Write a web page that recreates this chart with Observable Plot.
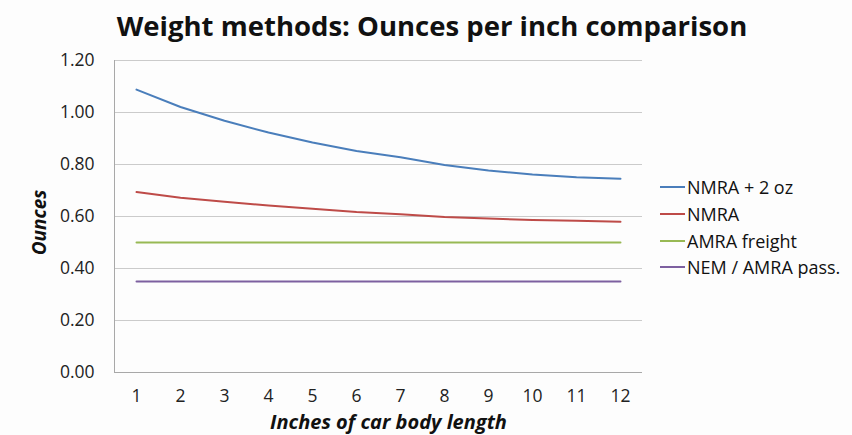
<!DOCTYPE html>
<html><head><meta charset="utf-8">
<script src="https://cdn.jsdelivr.net/npm/d3@7"></script>
<script src="https://cdn.jsdelivr.net/npm/@observablehq/plot@0.6"></script>
<style>
body{margin:0;background:#fdfdfd;font-family:"Open Sans",sans-serif;}
#wrap{position:relative;width:852px;height:435px;overflow:hidden;background:#fdfdfd;}
#title{position:absolute;left:6px;top:5px;width:852px;text-align:center;font-weight:bold;font-size:27.5px;color:#111;height:45px;line-height:42px;}
#chart{position:absolute;left:0;top:45px;}
#legend{position:absolute;left:660px;top:174px;font-size:18px;color:#111;}
.row{display:flex;align-items:center;height:26.7px;}
.sw{width:25px;height:2px;margin-right:2px;}
#chart svg{overflow:visible;}
#chart g[aria-label="y-axis tick label"], #chart g[aria-label="x-axis tick label"]{font-size:17.5px !important;}
</style></head>
<body>
<div id="wrap">
<div id="title">Weight methods: Ounces per inch comparison</div>
<div id="chart"></div>
<div id="legend"></div>
</div>
<script>
const inches = [1, 2, 3, 4, 5, 6, 7, 8, 9, 10, 11, 12];
const seriesNames = ["NMRA + 2 oz", "NMRA", "AMRA freight", "NEM / AMRA pass."];
const seriesColors = ["#4a7ebb", "#be4b48", "#98b954", "#7d60a0"];
const nmraPlus2 = [1.088, 1.021, 0.968, 0.923, 0.885, 0.852, 0.828, 0.798, 0.777, 0.762, 0.751, 0.745];
const nmra = [0.694, 0.672, 0.657, 0.642, 0.630, 0.617, 0.609, 0.598, 0.592, 0.587, 0.584, 0.580];
const amraFreight = [0.50, 0.50, 0.50, 0.50, 0.50, 0.50, 0.50, 0.50, 0.50, 0.50, 0.50, 0.50];
const nemAmraPass = [0.35, 0.35, 0.35, 0.35, 0.35, 0.35, 0.35, 0.35, 0.35, 0.35, 0.35, 0.35];
const yTicks = [0, 0.2, 0.4, 0.6, 0.8, 1.0, 1.2];
const xTitle = "Inches of car body length";
const yTitle = "Ounces";

const seriesValues = [nmraPlus2, nmra, amraFreight, nemAmraPass];
const data = [];
seriesNames.forEach((name, i) => {
  inches.forEach((x, j) => data.push({series: name, x, y: seriesValues[i][j]}));
});

const chart = Plot.plot({
  width: 852,
  height: 390,
  marginLeft: 114,
  marginRight: 210,
  marginTop: 15,
  marginBottom: 63,
  style: {fontFamily: "'Open Sans', sans-serif", color: "#222", background: "transparent"},
  x: {domain: [0.5, 12.5], ticks: inches, tickFormat: d => String(d)},
  y: {domain: [0, 1.2], ticks: yTicks, tickFormat: d => d.toFixed(2)},
  color: {domain: seriesNames, range: seriesColors},
  marks: [
    Plot.gridY(yTicks, {stroke: "#cbcbcb", strokeOpacity: 1, strokeWidth: 1}),
    Plot.ruleX([0.5], {stroke: "#a8a8a8"}),
    Plot.ruleY([0], {stroke: "#a8a8a8"}),
    Plot.line(data, {x: "x", y: "y", z: "series", stroke: "series", strokeWidth: 2}),
    Plot.axisY(yTicks, {tickSize: 0, tickPadding: 20, label: null, fontSize: 17.5, fill: "#222", tickFormat: d => d.toFixed(2)}),
    Plot.axisX(inches, {tickSize: 0, tickPadding: 17, label: null, fontSize: 17.5, fill: "#222", tickFormat: d => String(d)}),
    Plot.text([xTitle], {text: d => d, frameAnchor: "bottom", dx: 10, dy: 56, fontSize: 20, fontWeight: "bold", fontStyle: "italic", fill: "#111"}),
    Plot.text([yTitle], {text: d => d, frameAnchor: "left", textAnchor: "middle", dx: -75, dy: 6, rotate: -90, fontSize: 19, fontWeight: "bold", fontStyle: "italic", fill: "#111"})
  ]
});
document.getElementById("chart").appendChild(chart);

const legend = document.getElementById("legend");
seriesNames.forEach((name, i) => {
  const row = document.createElement("div");
  row.className = "row";
  row.innerHTML = `<span class="sw" style="background:${seriesColors[i]}"></span><span>${name}</span>`;
  legend.appendChild(row);
});
</script>
</body></html>
